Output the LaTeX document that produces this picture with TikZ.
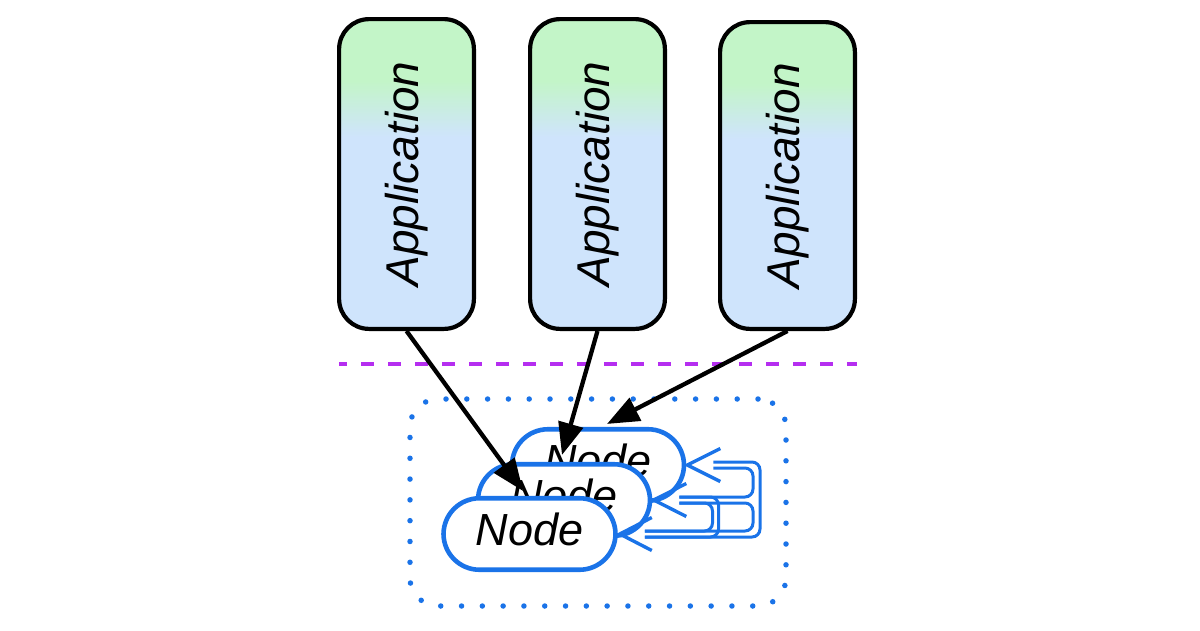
\documentclass[tikz,border=0pt]{standalone}
\usepackage{fontspec}
\setmainfont{Liberation Sans}
\usetikzlibrary{arrows.meta,calc}
\definecolor{appgreen}{HTML}{C3F5C8}
\definecolor{appblue}{HTML}{CFE4FC}
\definecolor{sepviolet}{HTML}{B52EF0}
\definecolor{nodeblue}{HTML}{1A73E8}
\pgfdeclareverticalshading{appshade}{100bp}{color(0bp)=(appblue); color(56bp)=(appblue); color(65bp)=(appgreen); color(100bp)=(appgreen)}
\begin{document}
\begin{tikzpicture}[x=1pt,y=-1pt,
  appbox/.style={draw=black, line width=4.2pt, rounded corners=30pt, shading=appshade,
    minimum width=134.8pt, minimum height=309.8pt, inner sep=0pt,
    font=\fontsize{46}{50}\selectfont\itshape},
  stackbox/.style={draw=nodeblue, line width=4.6pt, fill=white, rounded corners=36pt,
    minimum width=172pt, minimum height=71.5pt, inner sep=0pt, text height=34pt, text depth=11pt,
    font=\fontsize{45}{50}\selectfont\itshape},
  cluster/.style={draw=nodeblue, line width=5.5pt, line cap=round, dash pattern=on 0pt off 20.8pt,
    rounded corners=28pt, minimum width=376pt, minimum height=207pt, inner sep=0pt},
  feed/.style={draw=black, line width=4.3pt, -{Triangle[length=32pt,width=25pt]}},
  loopline/.style={draw=nodeblue, line width=3pt, rounded corners=8pt},
  vee/.style={draw=nodeblue, line width=3.4pt, line join=miter},
  sep/.style={draw=sepviolet, line width=4.5pt, dash pattern=on 13pt off 14pt, dash phase=5pt}]

\useasboundingbox (0,0) rectangle (1200,630);

% cluster frame
\node[cluster] (cl) at (598,502.5) {};

% application boxes
\node[appbox] (app1) at (406.5,174) {\rotatebox{90}{Application}};
\node[appbox] (app2) at (597.5,174) {\rotatebox{90}{Application}};
\node[appbox, minimum height=306.8pt] (app3) at (787.5,175.5) {\rotatebox{90}{Application}};

% separator
\coordinate (sepL) at (339,364);
\coordinate (sepR) at (857,364);
\draw[sep] (sepL) -- (sepR);

% stacked nodes
\node[stackbox] (back) at (598,465) {Node};
\node[stackbox] (mid) at (564,500) {Node};
\node[stackbox] (front) at (529.5,534) {Node};

% loop connectors
\coordinate (bIn) at ($(back.east)+(27,0)$);
\coordinate (mIn) at ($(mid.east)+(27,0)$);
\coordinate (fIn) at ($(front.east)+(27,0)$);

\draw[loopline] ($(bIn)+(0,-3)$) -- (760,462) -- (760,537) -- ($(fIn)+(0,3)$);
\draw[loopline] ($(bIn)+(0,3)$) -- (753,468) -- (753,497) -- ($(mIn)+(0,-3)$);
\draw[loopline] ($(mIn)+(0,3)$) -- (753,503) -- (753,531) -- ($(fIn)+(0,-3)$);
\draw[loopline] ($(mIn)+(0,-3)$) -- (718.5,497) -- (718.5,537) -- ($(fIn)+(0,3)$);
\draw[loopline] ($(mIn)+(0,3)$) -- (712.5,503) -- (712.5,531) -- ($(fIn)+(0,-3)$);

\draw[vee] ($(back.east)+(34,-16.5)$) -- ($(back.east)+(1,0)$) -- ($(back.east)+(34,16.5)$);
\draw[vee] ($(mid.east)+(34,-16.5)$) -- ($(mid.east)+(1.5,0)$) -- ($(mid.east)+(34,16.5)$);
\draw[vee] ($(front.east)+(34,-16.5)$) -- ($(front.east)+(2,0)$) -- ($(front.east)+(34,16.5)$);

% feed arrows
\draw[feed] (app1.south) -- ($(front.north)+(-6.5,-5)$);
\draw[feed] (app2.south) -- ($(mid.north)+(-2,-7)$);
\draw[feed] (app3.south) -- ($(back.north)+(9,-3)$);
\end{tikzpicture}
\end{document}
